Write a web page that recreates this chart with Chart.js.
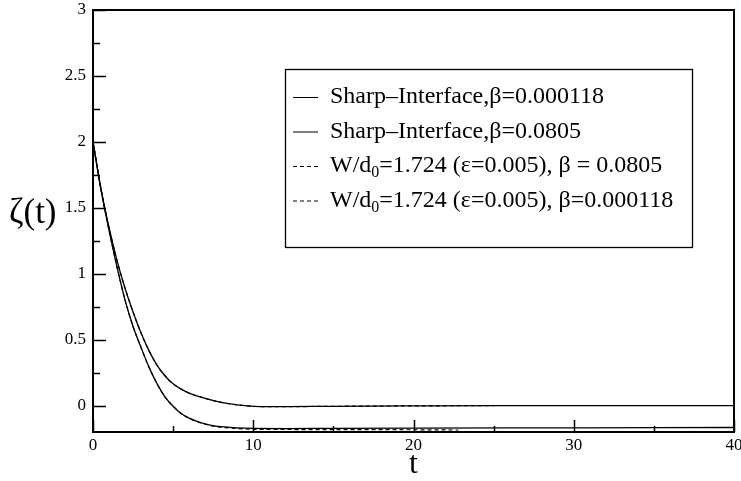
<!DOCTYPE html>
<html>
<head>
<meta charset="utf-8">
<script src="https://cdn.jsdelivr.net/npm/chart.js@4.4.1/dist/chart.umd.min.js"></script>
<style>
  body { margin: 0; background: #fff; }
  #wrap { width: 741px; height: 481px; }
</style>
</head>
<body>
<div id="wrap"><canvas id="chartZeta" width="741" height="481"></canvas></div>
<script>
// sharp-interface curve that settles near 0
var tSharpHigh = [0, 0.5, 1, 1.5, 2, 2.5, 3, 3.5, 4, 4.5, 5, 5.5, 6, 7, 8, 9, 10, 11, 12, 15, 20, 25, 30, 40];
var zetaSharpHigh = [2, 1.64, 1.35, 1.1, 0.89, 0.71, 0.55, 0.415, 0.305, 0.225, 0.165, 0.125, 0.095, 0.055, 0.025, 0.006, -0.005, -0.008, -0.008, -0.005, -0.002, 0, 0, 0];

// sharp-interface curve that settles near -0.17
var tSharpLow = [0, 0.5, 1, 1.5, 2, 2.5, 3, 3.5, 4, 4.5, 5, 5.5, 6, 6.5, 7, 7.5, 8, 9, 10, 12, 15, 20, 30, 40];
var zetaSharpLow = [2, 1.64, 1.33, 1.05, 0.8, 0.6, 0.44, 0.29, 0.165, 0.065, -0.005, -0.06, -0.095, -0.12, -0.138, -0.151, -0.16, -0.169, -0.173, -0.174, -0.172, -0.17, -0.168, -0.166];

// phase-field runs (dashed)
var tPhaseHigh = [0, 0.5, 1, 1.5, 2, 2.5, 3, 3.5, 4, 4.5, 5, 5.5, 6, 7, 8, 9, 10, 11, 12, 15, 20, 25];
var zetaPhaseHigh = [2, 1.64, 1.35, 1.1, 0.89, 0.71, 0.55, 0.415, 0.305, 0.225, 0.165, 0.125, 0.095, 0.055, 0.025, 0.006, -0.005, -0.008, -0.008, -0.005, -0.002, 0];
var tPhaseLow = [0, 0.5, 1, 1.5, 2, 2.5, 3, 3.5, 4, 4.5, 5, 5.5, 6, 6.5, 7, 7.5, 8, 9, 10, 12, 15, 20, 22.8];
var zetaPhaseLow = [2, 1.64, 1.33, 1.05, 0.8, 0.6, 0.44, 0.29, 0.165, 0.065, -0.005, -0.06, -0.096, -0.122, -0.141, -0.155, -0.164, -0.174, -0.179, -0.181, -0.182, -0.183, -0.185];

var seriesLabels = [
  "Sharp\u2013Interface,\u03b2=0.000118",
  "Sharp\u2013Interface,\u03b2=0.0805",
  "W/d\u2080=1.724 (\u03b5=0.005), \u03b2 = 0.0805",
  "W/d\u2080=1.724 (\u03b5=0.005), \u03b2=0.000118"
];

var xTicks = [0, 10, 20, 30, 40];
var yTicks = [0, 0.5, 1, 1.5, 2, 2.5, 3];

var serif = "'Liberation Serif', 'Times New Roman', serif";

function toPoints(ts, zs) {
  return ts.map(function (t, i) { return {x: t, y: zs[i]}; });
}

function isMajor(v, list) {
  return list.some(function (m) { return Math.abs(m - v) < 1e-6; });
}

// ticks point into the plot, plus closed frame
var frameTicks = {
  id: 'frameTicks',
  afterDatasetsDraw: function (chart) {
    var ctx = chart.ctx, a = chart.chartArea;
    var xs = chart.scales.x, ys = chart.scales.y;
    ctx.save();
    ctx.strokeStyle = '#000';
    ctx.lineWidth = 1.5;
    xs.ticks.forEach(function (tk) {
      var px = Math.round(xs.getPixelForValue(tk.value)) + 0.5;
      var len = isMajor(tk.value, xTicks) ? 12 : 6;
      ctx.beginPath(); ctx.moveTo(px, a.bottom); ctx.lineTo(px, a.bottom - len); ctx.stroke();
    });
    ys.ticks.forEach(function (tk) {
      var py = Math.round(ys.getPixelForValue(tk.value)) + 0.5;
      var len = isMajor(tk.value, yTicks) ? 13 : 7;
      ctx.beginPath(); ctx.moveTo(a.left, py); ctx.lineTo(a.left + len, py); ctx.stroke();
    });
    ctx.lineWidth = 2;
    ctx.strokeRect(a.left, a.top, a.right - a.left, a.bottom - a.top);

    // y title, upright like the original
    ctx.fillStyle = '#000';
    ctx.font = '35px ' + serif;
    ctx.textAlign = 'left';
    ctx.textBaseline = 'middle';
    ctx.fillText('\u03b6(t)', 9, 214);
    ctx.restore();
  }
};

// draw text, rendering the subscript zero smaller and lower
function drawRich(ctx, text, x, y, size) {
  var parts = text.split('\u2080');
  parts.forEach(function (p, i) {
    ctx.font = size + 'px ' + serif;
    ctx.fillText(p, x, y);
    x += ctx.measureText(p).width;
    if (i < parts.length - 1) {
      ctx.font = Math.round(size * 0.65) + 'px ' + serif;
      ctx.fillText('0', x, y + size * 0.3);
      x += ctx.measureText('0').width;
    }
  });
}

var boxLegend = {
  id: 'boxLegend',
  afterDraw: function (chart) {
    var ctx = chart.ctx;
    var bx = 285.5, by = 69.5, bw = 407, bh = 178;
    ctx.save();
    ctx.fillStyle = '#fff';
    ctx.fillRect(bx, by, bw, bh);
    ctx.strokeStyle = '#000';
    ctx.lineWidth = 1.3;
    ctx.strokeRect(bx, by, bw, bh);
    var rowY = [97, 131.5, 166, 200.5];
    chart.data.datasets.forEach(function (ds, i) {
      var y = rowY[i];
      ctx.strokeStyle = '#000';
      ctx.setLineDash(ds.borderDash || []);
      ctx.lineWidth = 1;
      ctx.beginPath(); ctx.moveTo(293, y + 0.5); ctx.lineTo(318, y + 0.5); ctx.stroke();
      ctx.setLineDash([]);
      ctx.fillStyle = '#000';
      ctx.textAlign = 'left';
      ctx.textBaseline = 'middle';
      drawRich(ctx, ds.label, 330, y, 24);
    });
    ctx.restore();
  }
};

var ctx1 = document.getElementById('chartZeta').getContext('2d');

new Chart(ctx1, {
  type: 'line',
  data: {
    datasets: [{
      label: seriesLabels[0],
      data: toPoints(tSharpLow, zetaSharpLow),
      borderColor: '#000',
      borderWidth: 1.3,
      pointRadius: 0,
      cubicInterpolationMode: 'monotone',
      fill: false
    }, {
      label: seriesLabels[1],
      data: toPoints(tSharpHigh, zetaSharpHigh),
      borderColor: '#000',
      borderWidth: 1.3,
      pointRadius: 0,
      cubicInterpolationMode: 'monotone',
      fill: false
    }, {
      label: seriesLabels[2],
      data: toPoints(tPhaseHigh, zetaPhaseHigh),
      borderColor: '#000',
      borderWidth: 1.2,
      borderDash: [4, 3],
      pointRadius: 0,
      cubicInterpolationMode: 'monotone',
      fill: false
    }, {
      label: seriesLabels[3],
      data: toPoints(tPhaseLow, zetaPhaseLow),
      borderColor: '#000',
      borderWidth: 1.2,
      borderDash: [4, 3],
      pointRadius: 0,
      cubicInterpolationMode: 'monotone',
      fill: false
    }]
  },
  options: {
    responsive: false,
    animation: false,
    devicePixelRatio: 1,
    layout: { padding: { top: 10, right: 7, left: 0, bottom: 0 } },
    plugins: {
      legend: { display: false },
      tooltip: { enabled: false }
    },
    scales: {
      x: {
        type: 'linear',
        min: 0,
        max: 40,
        afterBuildTicks: function (s) {
          s.ticks = s.ticks.filter(function (t) { return Math.abs(t.value / 5 - Math.round(t.value / 5)) < 1e-6; });
        },
        afterFit: function (s) { s.height = 49; s.paddingLeft = 0; s.paddingRight = 0; },
        grid: { display: false, drawTicks: false },
        border: { display: false },
        ticks: {
          stepSize: 5,
          padding: 3,
          color: '#000',
          maxRotation: 0,
          autoSkip: false,
          font: { size: 17, family: serif },
          callback: function (v) { return isMajor(v, xTicks) ? String(v) : ''; }
        },
        title: {
          display: true,
          text: 't',
          color: '#000',
          padding: { top: 0, bottom: 0 },
          font: { size: 32, family: serif, lineHeight: 1.0 }
        }
      },
      y: {
        min: -0.2,
        max: 3,
        afterBuildTicks: function (s) {
          s.ticks = s.ticks.filter(function (t) { return Math.abs(t.value / 0.25 - Math.round(t.value / 0.25)) < 1e-6; });
        },
        afterFit: function (s) { s.width = 93; s.paddingTop = 0; s.paddingBottom = 0; },
        grid: { display: false, drawTicks: false },
        border: { display: false },
        ticks: {
          stepSize: 0.25,
          padding: 7,
          color: '#000',
          autoSkip: false,
          font: { size: 17, family: serif },
          callback: function (v) { return isMajor(v, yTicks) ? String(v) : ''; }
        }
      }
    }
  },
  plugins: [frameTicks, boxLegend]
});
</script>
</body>
</html>
